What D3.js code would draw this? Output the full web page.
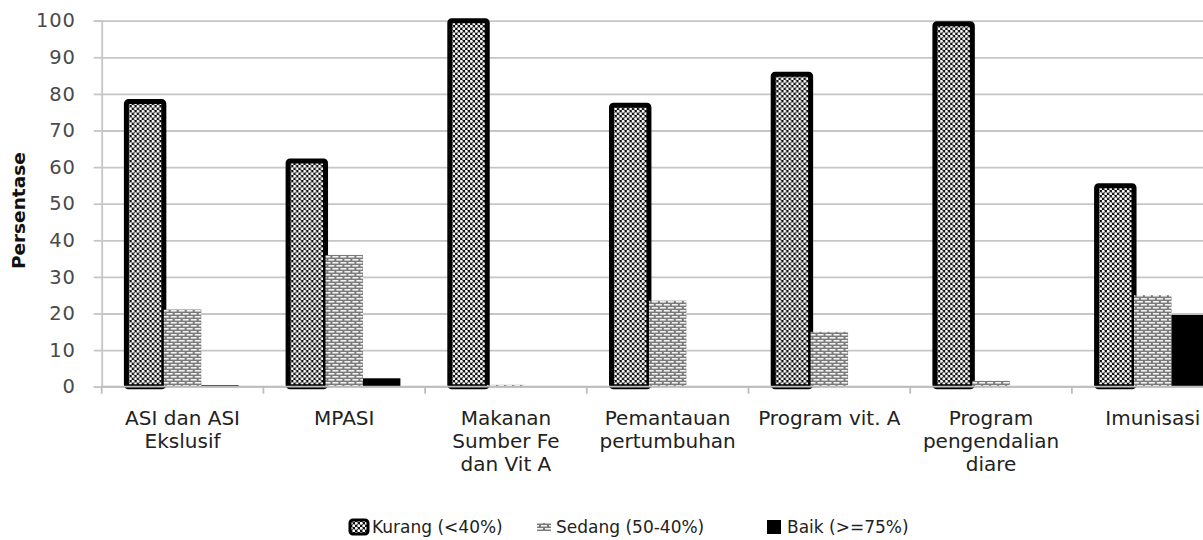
<!DOCTYPE html>
<html>
<head>
<meta charset="utf-8">
<script src="https://cdn.jsdelivr.net/npm/d3@7"></script>
<style>
  body { margin: 0; background: #fff; }
  svg { display: block; }
</style>
</head>
<body>
<svg></svg>
<script>
// Chart data
let categories = ["ASI dan ASI Ekslusif", "MPASI", "Makanan Sumber Fe dan Vit A", "Pemantauan pertumbuhan", "Program vit. A", "Program pengendalian diare", "Imunisasi"];
let categoryLines = [["ASI dan ASI", "Ekslusif"], ["MPASI"], ["Makanan", "Sumber Fe", "dan Vit A"], ["Pemantauan", "pertumbuhan"], ["Program vit. A"], ["Program", "pengendalian", "diare"], ["Imunisasi"]];
let seriesNames = ["Kurang (<40%)", "Sedang (50-40%)", "Baik (>=75%)"];
let kurang = [77.9, 61.7, 100, 76.9, 85.4, 99.2, 54.9];
let sedang = [21.1, 36, 0.5, 23.5, 15, 1.6, 25];
let baik = [0.4, 2.3, 0, 0, 0, 0, 19.6];
let yTicks = [0, 10, 20, 30, 40, 50, 60, 70, 80, 90, 100];

let values = categories.map((c, i) => [kurang[i], sedang[i], baik[i]]);

// Size
let width = 1203;
let height = 540;
let plotLeft = 101.7;
let plotRight = 1233.6;
let plotTop = 20.7;
let plotBottom = 386.7;

let svg = d3.select("svg").attr("width", width).attr("height", height);

// Patterns
let defs = svg.append("defs");
let checker = defs.append("pattern")
  .attr("id", "checker")
  .attr("patternUnits", "userSpaceOnUse")
  .attr("width", 5).attr("height", 5);
checker.append("rect").attr("width", 5).attr("height", 5).attr("fill", "#111");
checker.append("circle").attr("cx", 1.25).attr("cy", 1.25).attr("r", 1.45).attr("fill", "#fff");
checker.append("circle").attr("cx", 3.75).attr("cy", 3.75).attr("r", 1.45).attr("fill", "#fff");

let brick = defs.append("pattern")
  .attr("id", "brick")
  .attr("patternUnits", "userSpaceOnUse")
  .attr("width", 8).attr("height", 6);
brick.append("rect").attr("width", 8).attr("height", 6).attr("fill", "#7a7a7a");
brick.append("rect").attr("x", 1).attr("y", 1).attr("width", 6).attr("height", 1.6).attr("fill", "#f2f2f2");
brick.append("rect").attr("x", 5).attr("y", 4).attr("width", 6).attr("height", 1.6).attr("fill", "#f2f2f2");
brick.append("rect").attr("x", -3).attr("y", 4).attr("width", 6).attr("height", 1.6).attr("fill", "#f2f2f2");

let fills = ["url(#checker)", "url(#brick)", "#000"];

// Scales
let x0 = d3.scaleBand().domain(categories).range([plotLeft, plotRight]).padding(0);
let x1 = d3.scaleBand().domain(seriesNames).range([0, x0.bandwidth()]).paddingInner(0).paddingOuter(0.66);
let y = d3.scaleLinear().domain([0, 100]).range([plotBottom, plotTop]);

// Grid lines
svg.append("g")
  .attr("transform", "translate(" + plotLeft + ",0)")
  .call(d3.axisLeft(y).tickValues(yTicks).tickSize(-(plotRight - plotLeft)).tickFormat(""))
  .call(g => g.select(".domain").remove())
  .call(g => g.selectAll("line").attr("stroke", "#c6c6c6").attr("stroke-width", 1.8));

// Y axis
let yAxis = svg.append("g")
  .attr("transform", "translate(" + plotLeft + ",0)")
  .call(d3.axisLeft(y).tickValues(yTicks).tickSize(8).tickPadding(18))
  .call(g => g.select(".domain").attr("stroke", "#c6c6c6").attr("stroke-width", 1.8));
yAxis.selectAll("line").attr("stroke", "#c6c6c6").attr("stroke-width", 1.8);
yAxis.selectAll("text")
  .attr("fill", "#4a4a4a")
  .style("font-family", "'DejaVu Sans', sans-serif")
  .style("font-size", "19.5px")
  .style("letter-spacing", "0.8px");

// Y title
svg.append("text")
  .attr("transform", "translate(25," + ((plotTop + plotBottom) / 2 + 7) + ") rotate(-90)")
  .attr("text-anchor", "middle")
  .style("font-family", "'DejaVu Sans', sans-serif")
  .style("font-size", "18.5px")
  .style("font-weight", "bold")
  .attr("fill", "#111")
  .text("Persentase");

// Bars
let groups = svg.append("g")
  .selectAll("g")
  .data(values)
  .join("g")
  .attr("transform", (d, i) => "translate(" + x0(categories[i]) + ",0)");

groups.selectAll("rect")
  .data(d => d.map((v, j) => ({ v: v, j: j })))
  .join("rect")
  .attr("x", d => x1(seriesNames[d.j]))
  .attr("y", d => y(d.v))
  .attr("width", x1.bandwidth())
  .attr("height", d => y(0) - y(d.v))
  .attr("fill", d => fills[d.j])
  .attr("stroke", d => d.j === 0 ? "#000" : "none")
  .attr("stroke-width", 5)
  .attr("rx", d => d.j === 0 ? 2 : 0);

// X axis
let xAxis = svg.append("g")
  .attr("transform", "translate(0," + plotBottom + ")")
  .call(d3.axisBottom(x0).tickSize(0).tickPadding(0))
  .call(g => g.select(".domain").remove());

xAxis.selectAll("text").each(function (d, i) {
  let t = d3.select(this).text(null).attr("dy", null).attr("y", 38);
  categoryLines[i].forEach((line, k) => {
    t.append("tspan").attr("x", 0).attr("dy", k === 0 ? 0 : 23.3).text(line);
  });
})
  .attr("fill", "#222")
  .style("font-family", "'DejaVu Sans', sans-serif")
  .style("font-size", "20px");

// baseline and category separators
svg.append("line")
  .attr("x1", plotLeft).attr("x2", plotRight)
  .attr("y1", plotBottom).attr("y2", plotBottom)
  .attr("stroke", "#bdbdbd").attr("stroke-width", 1.8);

svg.append("g")
  .selectAll("line")
  .data(categories.concat(["end"]))
  .join("line")
  .attr("x1", (d, i) => i < categories.length ? x0(d) : plotRight)
  .attr("x2", (d, i) => i < categories.length ? x0(d) : plotRight)
  .attr("y1", plotBottom)
  .attr("y2", plotBottom + 7)
  .attr("stroke", "#bdbdbd")
  .attr("stroke-width", 1.8);

// Legend
let legendX = [350, 536, 767];
let legend = svg.append("g")
  .selectAll("g")
  .data(seriesNames)
  .join("g")
  .attr("transform", (d, i) => "translate(" + legendX[i] + ",527)");

legend.append("rect")
  .attr("x", (d, i) => i === 1 ? 1 : 0)
  .attr("y", (d, i) => i === 1 ? -4 : -7)
  .attr("width", (d, i) => i === 0 ? 18 : 14)
  .attr("height", (d, i) => i === 1 ? 8 : 14)
  .attr("rx", (d, i) => i === 0 ? 3 : 0)
  .attr("fill", (d, i) => fills[i])
  .attr("stroke", (d, i) => i === 0 ? "#000" : "none")
  .attr("stroke-width", 3);

legend.append("text")
  .attr("x", (d, i) => i === 0 ? 22 : 20)
  .attr("y", 6)
  .attr("fill", "#222")
  .style("font-family", "'DejaVu Sans', sans-serif")
  .style("font-size", "17px")
  .text(d => d);
</script>
</body>
</html>
